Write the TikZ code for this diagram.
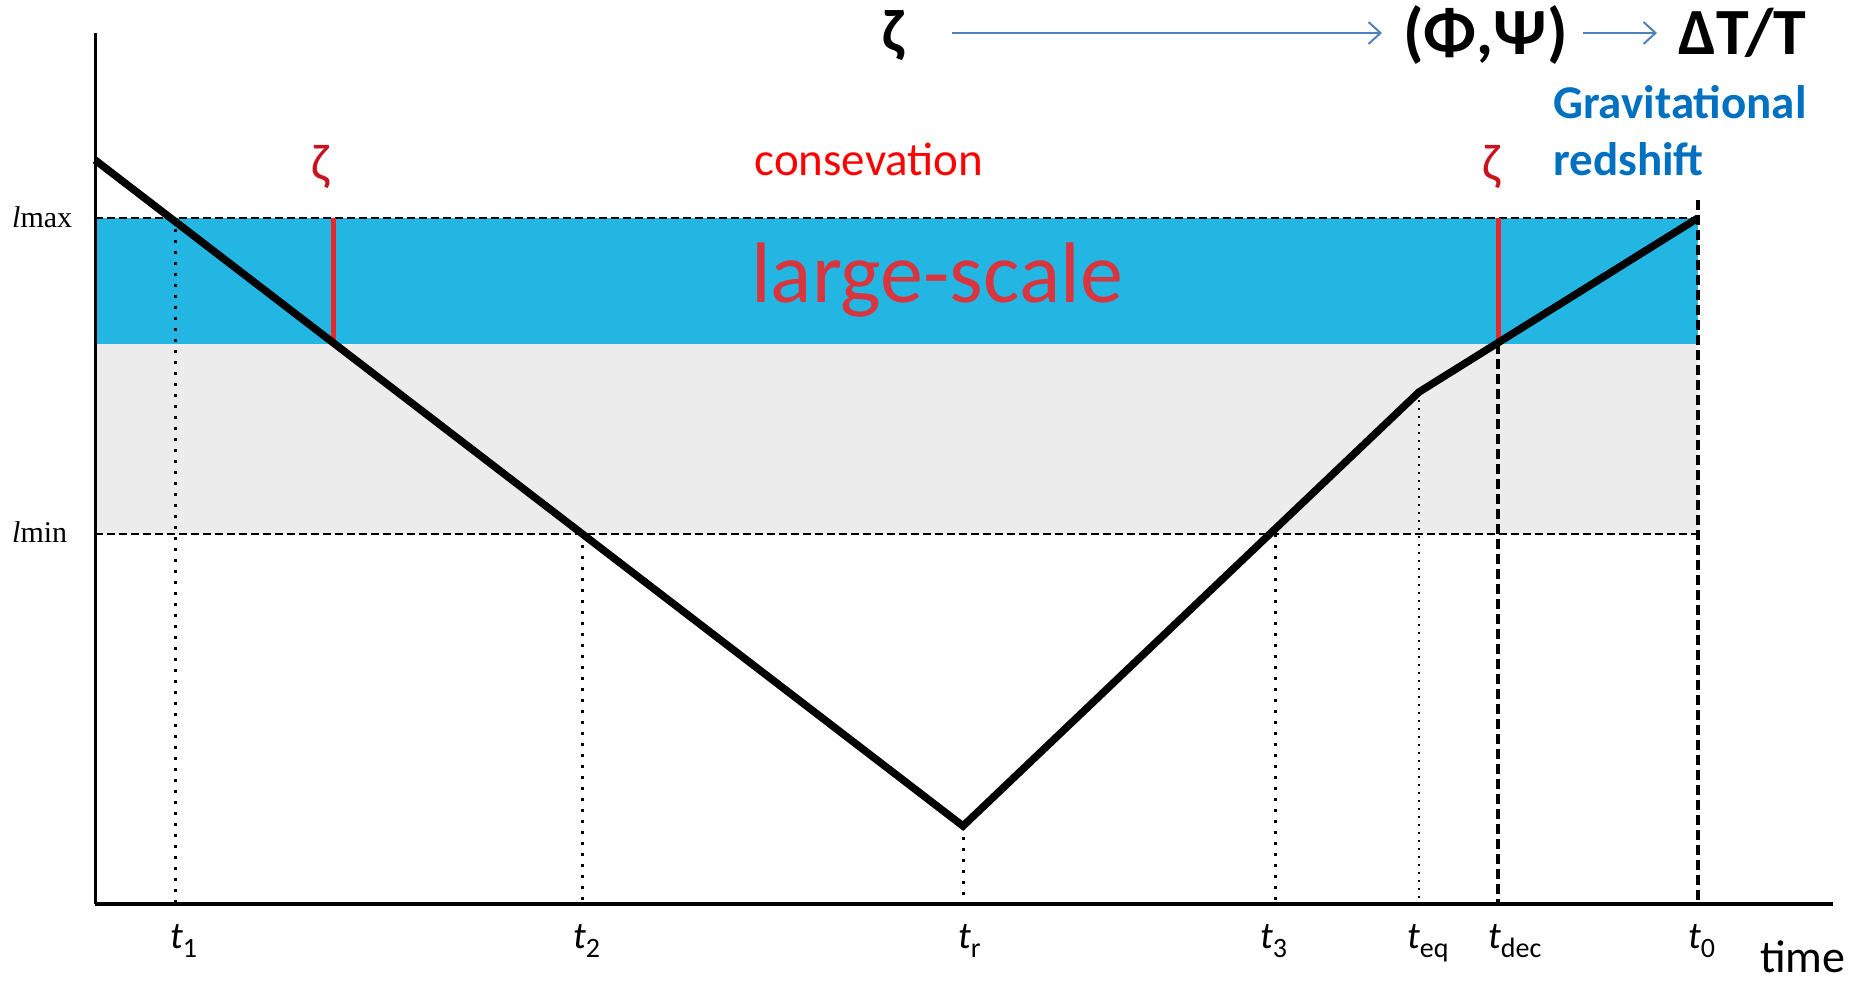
\documentclass[tikz,border=0pt]{standalone}
\usepackage{fontspec}
\setmainfont{Carlito}
\newfontfamily\timesf{Liberation Serif}
\usetikzlibrary{arrows.meta}
\definecolor{bandblue}{RGB}{36,182,226}
\definecolor{bandgrey}{RGB}{236,236,236}
\definecolor{zred}{RGB}{230,40,45}
\definecolor{zetared}{RGB}{200,20,30}
\definecolor{lsred}{RGB}{218,52,62}
\definecolor{consred}{RGB}{255,0,0}
\definecolor{gravblue}{RGB}{0,112,192}
\definecolor{arrblue}{RGB}{79,129,189}
\newcommand{\setfs}[1]{\fontsize{#1}{#1}\selectfont}
\newcommand{\tlab}[1]{{\itshape t}\raisebox{-9pt}{\setfs{28}#1}}
\begin{document}
\begin{tikzpicture}[x=1pt,y=-1pt,
  axis/.style={line width=3pt,black},
  lvl/.style={line width=2.5pt,dash pattern=on 8pt off 4pt,black},
  dotl/.style={line width=3pt,dash pattern=on 3pt off 8pt,black},
  thindot/.style={line width=2pt,dash pattern=on 2pt off 6pt,black},
  dashv/.style={line width=3.5pt,dash pattern=on 10pt off 5pt,black},
  redbar/.style={line width=5pt,zred},
  curve/.style={line width=7.5pt,black,line join=miter},
  tl/.style={anchor=base west,inner sep=0pt,font=\setfs{38}},
  llab/.style={anchor=base west,inner sep=0pt,font=\timesf\setfs{30}},
  toparr/.style={line width=2pt,arrblue,-{Straight Barb[length=12pt,width=22pt]}},
  topt/.style={inner sep=0pt,font=\bfseries\setfs{66}}]
\useasboundingbox (0,0) rectangle (1860,982);
% bands
\fill[bandgrey] (95,344) rectangle (1698,534);
\fill[bandblue] (95,218) rectangle (1698,344);
% coordinates
\coordinate (o) at (95,904);
\coordinate (ytop) at (95,33);
\coordinate (xend) at (1833,904);
\coordinate (p0) at (95,160);
\coordinate (pr) at (963,826);
\coordinate (peq) at (1419,392);
\coordinate (p0end) at (1698,218);
\coordinate (lmaxL) at (95,218);
\coordinate (lminL) at (95,534);
\coordinate (lminR) at (1698,534);
\coordinate (t0top) at (1698,200);
\coordinate (t0bot) at (1698,904);
\coordinate (x1) at (175,218);   \coordinate (b1) at (175,904);
\coordinate (x2) at (582,534);   \coordinate (b2) at (582,904);
\coordinate (br) at (963,904);
\coordinate (x3) at (1275,534);  \coordinate (b3) at (1275,904);
\coordinate (beq) at (1419,904);
\coordinate (xdec) at (1498,344); \coordinate (bdec) at (1498,904);
\coordinate (zdectop) at (1498,218);
\coordinate (z1top) at (333,218); \coordinate (z1bot) at (333,344);
% level lines
\draw[lvl] (lmaxL) -- (p0end);
\draw[lvl] (lminL) -- (lminR);
\draw[dashv] (t0top) -- (t0bot);
% verticals
\draw[dotl] (x1) -- (b1);
\draw[dotl] (x2) -- (b2);
\draw[dotl] (pr) -- (br);
\draw[dotl] (x3) -- (b3);
\draw[thindot] (peq) -- (beq);
\draw[dashv] (xdec) -- (bdec);
% red bars
\draw[redbar] (z1top) -- (z1bot);
\draw[redbar] (zdectop) -- (xdec);
% axes
\draw[axis] (ytop) -- (o);
\draw[line width=4pt] (o) -- (xend);
% curve
\draw[curve] (p0) -- (pr) -- (peq) -- (p0end);
% axis labels
\node[llab] (lmax) at (12,227) {\itshape l\upshape max};
\node[llab] (lmin) at (12,542) {\itshape l\upshape min};
\node[tl] (lt1) at (170,948) {\tlab{1}};
\node[tl] (lt2) at (573,948) {\tlab{2}};
\node[tl] (ltr) at (958,948) {\tlab{r}};
\node[tl] (lt3) at (1260,948) {\tlab{3}};
\node[tl] (lteq) at (1407,948) {\tlab{eq}};
\node[tl] (ltdec) at (1488,948) {\tlab{dec}};
\node[tl] (lt0) at (1688,948) {\tlab{0}};
\node[anchor=base west,inner sep=0pt,font=\setfs{46}] (time) at (1760,972) {time};
% red labels
\node[anchor=base,inner sep=0pt,font=\setfs{52},zetared] (zl) at (321,180) {ζ};
\node[anchor=base,inner sep=0pt,font=\setfs{52},zetared] (zr) at (1492,180) {ζ};
\node[anchor=base,inner sep=0pt,font=\setfs{47},consred] (cons) at (869,175) {consevation};
\node[inner sep=0pt,font=\setfs{86},lsred] (ls) at (937,280) {large-scale};
% gravitational redshift
\node[anchor=base west,inner sep=0pt,font=\bfseries\setfs{47},gravblue] (grav) at (1553,118) {Gravitational};
\node[anchor=base west,inner sep=0pt,font=\bfseries\setfs{47},gravblue] (reds) at (1553,175) {redshift};
% top row
\node[topt,anchor=base,font=\bfseries\setfs{60}] (zeta) at (893,52) {ζ};
\node[topt,anchor=base west] (phipsi) at (1403,55) {(Φ,Ψ)};
\node[topt,anchor=base west] (dtt) at (1678,55) {ΔT/T};
\coordinate (a1s) at (952,33);
\coordinate (a1e) at (1382,33);
\coordinate (a2s) at (1583,33);
\coordinate (a2e) at (1657,33);
\draw[toparr] (a1s) -- (a1e);
\draw[toparr] (a2s) -- (a2e);
\end{tikzpicture}
\end{document}
